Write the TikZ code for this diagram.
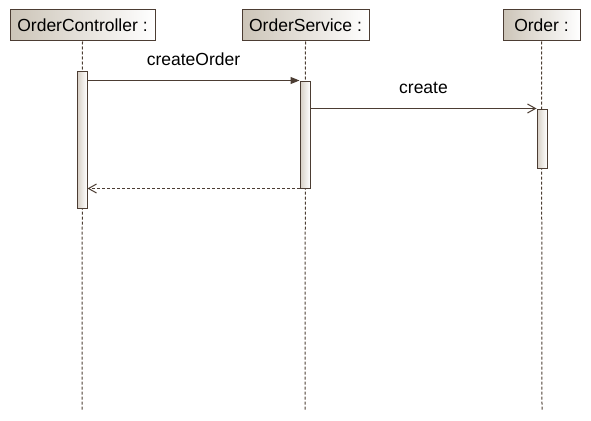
\documentclass[tikz,border=0pt]{standalone}
\usepackage{fontspec}
\setmainfont{Liberation Sans}
\usepackage{tikz}
\usetikzlibrary{arrows,arrows.meta}
\definecolor{zzttqq}{rgb}{0.30,0.24,0.20}
\definecolor{ddccbb}{rgb}{0.80,0.77,0.72}
\definecolor{eeddcc}{rgb}{0.84,0.81,0.77}
\tikzset{
  head/.style={draw=zzttqq,line width=1pt,left color=ddccbb,right color=white,minimum width=#1,minimum height=31pt,inner sep=0pt,font=\fontsize{17.5}{20}\selectfont},
  actbar/.style={draw=zzttqq,line width=1pt,left color=eeddcc,right color=white,minimum width=10pt,minimum height=#1,inner sep=0pt},
  life/.style={draw=zzttqq,line width=1pt,dash pattern=on 3pt off 2pt},
  msg/.style={draw=zzttqq,line width=1pt},
  lbl/.style={font=\fontsize{17.5}{20}\selectfont,inner sep=0pt}
}
\begin{document}
\begin{tikzpicture}[line cap=butt,line join=miter,x=1pt,y=-1pt]
\useasboundingbox (0,0) rectangle (591,420);
% heads
\node[head=145pt] (ctrl) at (82.5,25.5) {OrderController :};
\node[head=127pt] (serv) at (305.5,25.5) {OrderService :};
\node[head=77pt] (ordr) at (541.5,25.5) {Order :};
% lifelines
\coordinate (ctrlend) at (82,410);
\coordinate (servend) at (305,410);
\coordinate (ordrend) at (542,410);
\draw[life] (ctrl.south) -- (ctrlend);
\draw[life] (serv.south) -- (servend);
\draw[life] (ordr.south) -- (ordrend);
% activations
\node[actbar=137pt] (ctrlbar) at (82,139.5) {};
\node[actbar=107pt] (servbar) at (305,134.5) {};
\node[actbar=59pt] (ordrbar) at (542,138.5) {};
% messages
\draw[msg,-{Triangle[length=9pt,width=7pt]}] (ctrlbar.east |- servbar.north) -- (servbar.north west)
  node[lbl,midway,above=14pt] {createOrder};
\draw[msg,-{Straight Barb[length=8pt,width=9pt]}] (servbar.east |- ordrbar.north) -- (ordrbar.north west)
  node[lbl,midway,above=14pt] {create};
\draw[msg,-{Straight Barb[length=8pt,width=9pt]},dash pattern=on 3pt off 2pt] (servbar.south west) -- (ctrlbar.east |- servbar.south);
\end{tikzpicture}
\end{document}
